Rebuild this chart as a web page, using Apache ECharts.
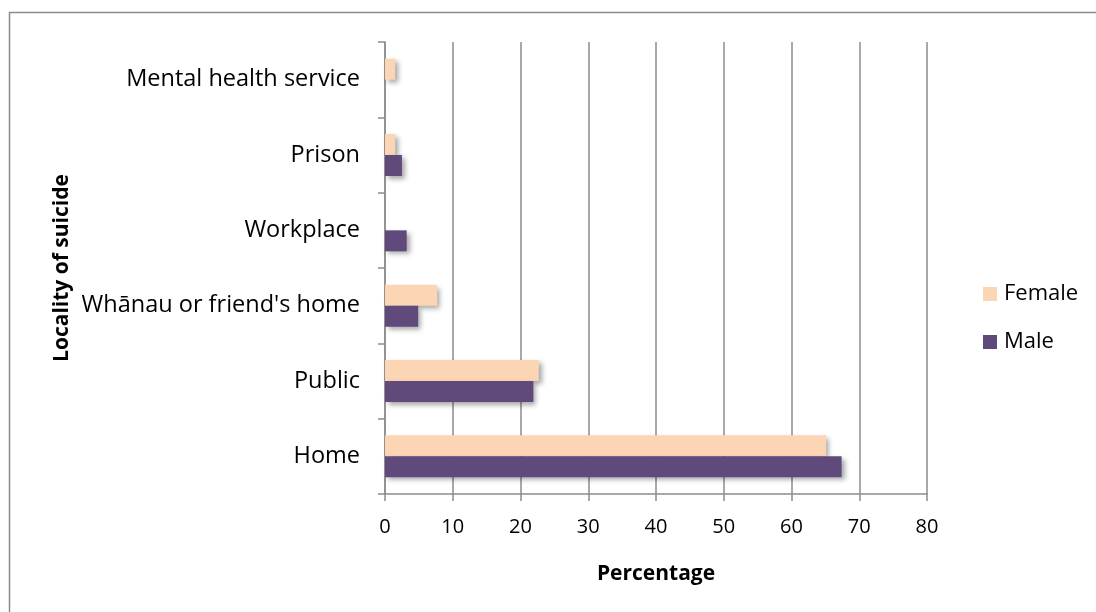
<!DOCTYPE html>
<html>
<head>
<meta charset="utf-8">
<script src="https://cdn.jsdelivr.net/npm/echarts@6/dist/echarts.min.js"></script>
<style>
html,body{margin:0;padding:0;background:#fff;}
#chart{width:1096px;height:612px;}
</style>
</head>
<body>
<div id="chart"></div>
<script>
const categories = ['Home', 'Public', "Whānau or friend's home", 'Workplace', 'Prison', 'Mental health service'];
const femaleValues = [65.1, 22.7, 7.7, 0, 1.5, 1.5];
const maleValues = [67.4, 21.9, 4.9, 3.2, 2.5, 0];
const xTicks = [0, 10, 20, 30, 40, 50, 60, 70, 80];

const FONT = 'Open Sans';
const chart = echarts.init(document.getElementById('chart'));
const shadow = {shadowBlur: 5, shadowOffsetX: 3, shadowOffsetY: 3, shadowColor: 'rgba(0,0,0,0.35)'};
chart.setOption({
  animation: false,
  textStyle: {fontFamily: FONT},
  graphic: [{
    type: 'rect', shape: {x: 9.5, y: 12.5, width: 1200, height: 800},
    style: {fill: 'none', stroke: '#8a8a8a', lineWidth: 1.5}, silent: true
  }],
  grid: {left: 385, right: 169, top: 42, bottom: 118},
  legend: {
    orient: 'vertical', left: 978, top: 278, itemGap: 26,
    itemWidth: 14, itemHeight: 14, icon: 'rect',
    data: ['Female', 'Male'],
    textStyle: {fontFamily: FONT, fontSize: 22, color: '#000', padding: [0, 0, 0, 2]}
  },
  xAxis: {
    type: 'value', min: xTicks[0], max: xTicks[xTicks.length - 1], interval: 10,
    name: 'Percentage', nameLocation: 'middle', nameGap: 70,
    nameTextStyle: {fontFamily: FONT, fontSize: 21, fontWeight: 'bold', color: '#000'},
    axisLine: {show: true, lineStyle: {color: '#8c8c8c', width: 1.5}},
    axisTick: {show: true, length: 7, lineStyle: {color: '#8c8c8c', width: 1.5}},
    axisLabel: {fontFamily: FONT, fontSize: 20, color: '#000', margin: 23},
    splitLine: {show: true, lineStyle: {color: '#8c8c8c', width: 1.5}}
  },
  yAxis: {
    type: 'category', data: categories,
    name: 'Locality of suicide', nameLocation: 'middle', nameGap: 312, nameRotate: 90,
    nameTextStyle: {fontFamily: FONT, fontSize: 21, fontWeight: 'bold', color: '#000'},
    axisLine: {show: true, lineStyle: {color: '#8c8c8c', width: 1.5}},
    axisTick: {show: true, length: 7, lineStyle: {color: '#8c8c8c', width: 1.5}},
    axisLabel: {fontFamily: FONT, fontSize: 23.5, color: '#000', margin: 25},
    splitLine: {show: false}
  },
  series: [
    {name: 'Female', type: 'bar', data: femaleValues, barWidth: 21, barGap: '0%',
     itemStyle: Object.assign({color: '#FCD5B5'}, shadow)},
    {name: 'Male', type: 'bar', data: maleValues, barWidth: 21, barGap: '0%',
     itemStyle: Object.assign({color: '#604A7B'}, shadow)}
  ]
});
</script>
</body>
</html>
